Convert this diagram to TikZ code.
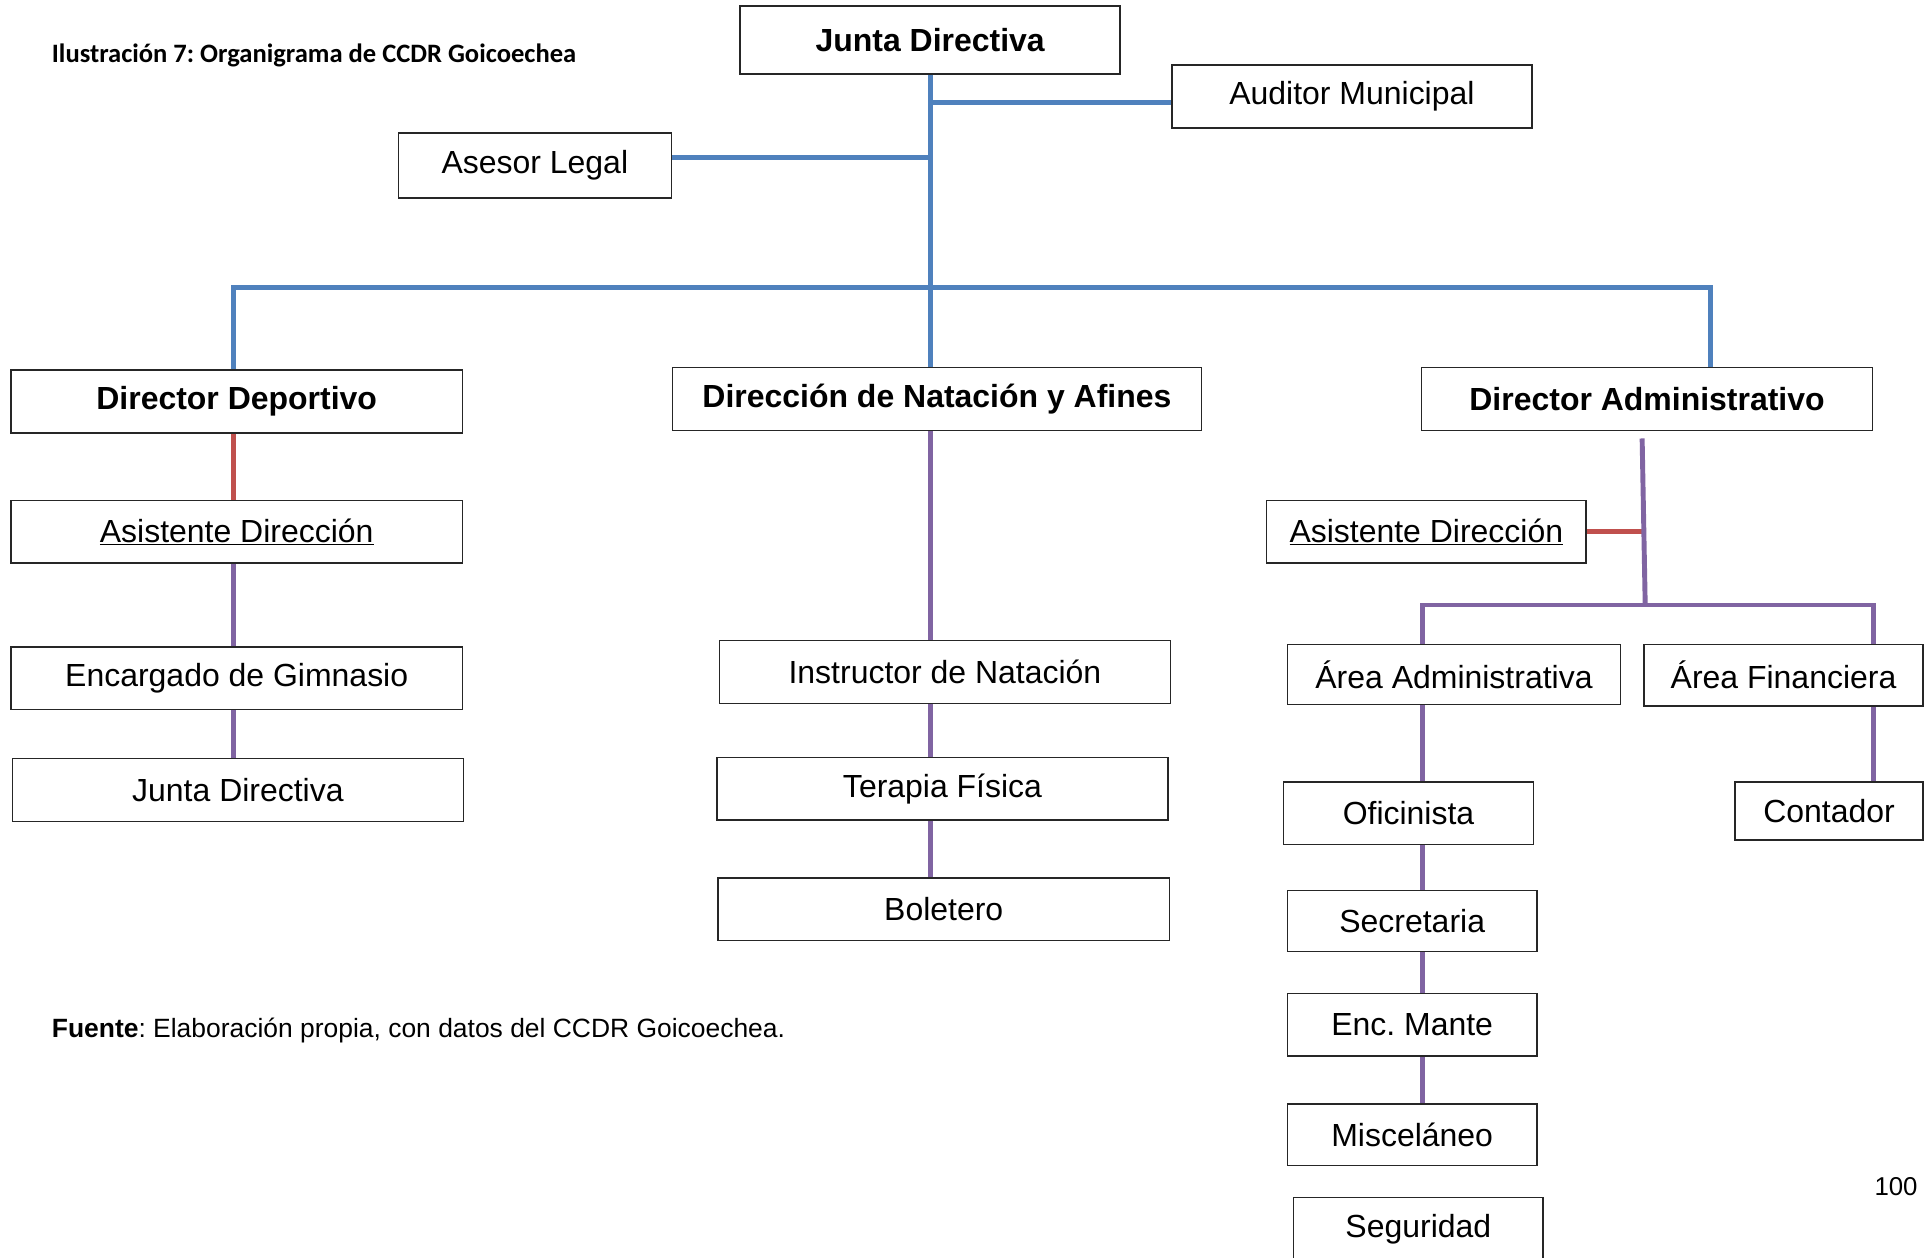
\documentclass[tikz,border=0pt]{standalone}
\usepackage{fontspec}
\setmainfont{Liberation Sans}
\newfontfamily\calibrifont{Carlito}
\usetikzlibrary{calc}
\definecolor{cblue}{HTML}{4F81BD}
\definecolor{cred}{HTML}{C0504D}
\definecolor{cpurple}{HTML}{8064A2}
\frenchspacing
\tikzset{
  box/.style={draw=black!85, line width=1.2pt, fill=white, inner sep=0pt, align=center,
    font=\fontsize{26}{30}\selectfont},
  boldbox/.style={box, font=\fontsize{26}{30}\selectfont\bfseries},
  blueline/.style={draw=cblue, line width=4pt},
  redline/.style={draw=cred, line width=4pt},
  purpleline/.style={draw=cpurple, line width=4pt},
}
\begin{document}
\begin{tikzpicture}[x=1pt, y=-1pt]
\clip (0,0) rectangle (1568,1023);
\fill[white] (0,0) rectangle (1568,1023);

% captions
\node[anchor=west, inner sep=0pt, font=\calibrifont\fontsize{21.6}{25}\selectfont\bfseries] (title) at (42,45) {Ilustración 7: Organigrama de CCDR Goicoechea};
\node[anchor=west, inner sep=0pt, font=\fontsize{21.5}{25}\selectfont] (fuente) at (42,838) {\textbf{Fuente}: Elaboración propia, con datos del CCDR Goicoechea.};
\node[inner sep=0pt, font=\fontsize{21}{25}\selectfont] (page) at (1542,965) {100};

% helper coordinates
\coordinate (xM) at (757,0);
\coordinate (xL) at (190,0);
\coordinate (xR) at (1391,0);
\coordinate (xA) at (1157,0);
\coordinate (xF) at (1524,0);
\coordinate (yAud) at (0,83);
\coordinate (yAse) at (0,128);
\coordinate (busY) at (0,234);
\coordinate (adm) at (1338,492);

% nodes
\node[boldbox, minimum width=309pt, minimum height=55pt] (jd) at (756.5,32.5) {Junta Directiva};
\node[box, minimum width=293pt, minimum height=51pt] (aud) at (1099.5,78.5) {Auditor Municipal};
\node[box, minimum width=222pt, minimum height=53pt] (ase) at (435,134.5) {Asesor Legal};

\node[boldbox, minimum width=367pt, minimum height=51pt] (dd) at (192.5,326.5) {Director Deportivo};
\node[boldbox, minimum width=430pt, minimum height=51pt] (dn) at (762,324.5) {Dirección de Natación y Afines};
\node[boldbox, minimum width=367pt, minimum height=51pt] (da) at (1339.5,324.5) {Director Administrativo};

\node[box, minimum width=367pt, minimum height=51pt] (asL) at (192.5,432.5) {\underline{Asistente Dirección}};
\node[box, minimum width=367pt, minimum height=51pt] (enc) at (192.5,551.5) {Encargado de Gimnasio};
\node[box, minimum width=367pt, minimum height=51pt] (jdL) at (193.5,642.5) {Junta Directiva};

\node[box, minimum width=367pt, minimum height=51pt] (ins) at (768.5,546.5) {Instructor de Natación};
\node[box, minimum width=367pt, minimum height=51pt] (ter) at (766.5,641.5) {Terapia Física};
\node[box, minimum width=367pt, minimum height=51pt] (bol) at (767.5,739.5) {Boletero};

\node[box, minimum width=260pt, minimum height=51pt] (asR) at (1160,432.5) {\underline{Asistente Dirección}};
\node[box, minimum width=271pt, minimum height=49pt] (aa) at (1182.5,548.5) {Área Administrativa};
\node[box, minimum width=227pt, minimum height=50pt] (af) at (1450.5,549) {Área Financiera};
\node[box, minimum width=203pt, minimum height=51pt] (ofi) at (1145.5,661.5) {Oficinista};
\node[box, minimum width=153pt, minimum height=47pt] (con) at (1487.5,659.5) {Contador};
\node[box, minimum width=203pt, minimum height=50pt] (sec) at (1148.5,749) {Secretaria};
\node[box, minimum width=203pt, minimum height=51pt] (enm) at (1148.5,833.5) {Enc. Mante};
\node[box, minimum width=203pt, minimum height=50pt] (mis) at (1148.5,923) {Misceláneo};
\node[box, minimum width=203pt, minimum height=51pt] (seg) at (1153.5,999.5) {Seguridad};

% blue connectors
\draw[blueline] (jd.south -| xM) -- (dn.north -| xM);
\draw[blueline] (xM |- yAud) -- (aud.west |- yAud);
\draw[blueline] (ase.east |- yAse) -- (xM |- yAse);
\draw[blueline] (dd.north -| xL) -- (xL |- busY) -- (xR |- busY) -- (da.north -| xR);

% red connectors
\draw[redline] (dd.south -| xL) -- (asL.north -| xL);
\draw[redline] (asR.east) -- (asR.east -| adm);

% purple connectors
\draw[purpleline] (asL.south -| xL) -- (enc.north -| xL);
\draw[purpleline] (enc.south -| xL) -- (jdL.north -| xL);
\draw[purpleline] (dn.south -| xM) -- (ins.north -| xM);
\draw[purpleline] (ins.south -| xM) -- (ter.north -| xM);
\draw[purpleline] (ter.south -| xM) -- (bol.north -| xM);
\draw[purpleline] ($(da.south)+(-4,6)$) -- (adm);
\draw[purpleline] (aa.north -| xA) -- (xA |- adm) -- (xF |- adm) -- (af.north -| xF);
\draw[purpleline] (aa.south -| xA) -- (ofi.north -| xA);
\draw[purpleline] (af.south -| xF) -- (con.north -| xF);
\draw[purpleline] (ofi.south -| xA) -- (sec.north -| xA);
\draw[purpleline] (sec.south -| xA) -- (enm.north -| xA);
\draw[purpleline] (enm.south -| xA) -- (mis.north -| xA);
\end{tikzpicture}
\end{document}
